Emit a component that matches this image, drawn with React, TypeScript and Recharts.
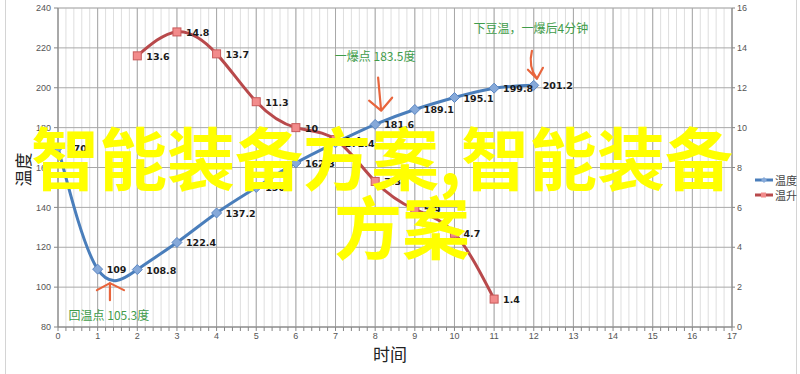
import React from 'react';
import {
  ComposedChart, Line, XAxis, YAxis, CartesianGrid, Legend, LabelList, ReferenceDot,
} from 'recharts';

// values
const times = [0, 1, 2, 3, 4, 5, 6, 7, 8, 9, 10, 11, 12];
const tempValues = [170, 109, 108.8, 122.4, 137.2, 150, 162.3, 172.4, 181.6, 189.1, 195.1, 199.8, 201.2];
const riseValues = [null, null, 13.6, 14.8, 13.7, 11.3, 10, 9.4, 7.3, 5.9, 4.7, 1.4, null];
const seriesNames = ['温度', '温升'];

const xMajorTicks = Array.from({ length: 18 }, (_, i) => i);
const xMinorTicks = Array.from({ length: 86 }, (_, i) => Math.round(i * 2) / 10);
const leftTicks = [80, 100, 120, 140, 160, 180, 200, 220, 240];
const leftMinorTicks = [80, 90, 100, 110, 120, 130, 140, 150, 160, 170, 180, 190, 200, 210, 220, 230, 240];
const rightTicks = [0, 2, 4, 6, 8, 10, 12, 14, 16];

const notes = [
  { x: 12.08, y: 204.5, text: '下豆温，一爆后4分钟' },
  { x: 8.15, y: 188.5, text: '一爆点 183.5度' },
  { x: 1.31, y: 102, text: '回温点 105.3度' },
];

const watermark = ['智能装备方案,智能装备', '方案'];

const data = times.map((t, i) => ({ t, temp: tempValues[i], rise: riseValues[i] }));

const BLUE = '#4a7ebb';
const RED = '#b8494b';
const ARROW = '#e8653c';
const GREEN = '#3f9c4a';
const CJK = '"Noto Sans CJK SC", "Noto Sans", sans-serif';

const Diamond = (props: any) => {
  const { cx, cy } = props;
  if (cx == null || cy == null) return null;
  return <path d={`M${cx},${cy - 5}L${cx + 5},${cy}L${cx},${cy + 5}L${cx - 5},${cy}Z`} fill="#86a9d9" stroke="#5b86c2" strokeWidth={1} />;
};

const Square = (props: any) => {
  const { cx, cy } = props;
  if (cx == null || cy == null) return null;
  return <rect x={cx - 4} y={cy - 4} width={8} height={8} fill="#f28b8b" stroke="#c85a5a" strokeWidth={1} />;
};

const PointLabel = (props: any) => {
  const { x, y, value } = props;
  if (value == null || x == null) return null;
  return (
    <text x={x + 9} y={y + 4} fontSize={9.5} fontWeight="bold" fill="#1a1a1a" fontFamily="DejaVu Sans, sans-serif">
      {value}
    </text>
  );
};

// hand-drawn style arrow + green note, anchored at the arrow tip
const Note = (props: any) => {
  const { cx, cy, text, kind } = props;
  if (cx == null || cy == null) return null;
  let arrow = '';
  let tx = cx;
  let ty = cy;
  if (kind === 'curve') {
    arrow = `M${cx - 5},${cy - 28} Q${cx - 9},${cy - 12} ${cx},${cy} M${cx - 9},${cy - 9} L${cx},${cy} L${cx + 6},${cy - 11}`;
    tx = cx - 6; ty = cy - 51;
  } else if (kind === 'down') {
    arrow = `M${cx - 3},${cy - 33} L${cx},${cy} M${cx - 12},${cy - 10} L${cx},${cy} L${cx + 11},${cy - 13}`;
    tx = cx - 6; ty = cy - 55;
  } else {
    arrow = `M${cx},${cy + 17} L${cx},${cy} M${cx - 13},${cy + 7} L${cx},${cy} L${cx + 14},${cy + 7}`;
    tx = cx - 1; ty = cy + 31;
  }
  return (
    <g>
      <path d={arrow} fill="none" stroke={ARROW} strokeWidth={2.2} strokeLinecap="round" strokeLinejoin="round" />
      <text x={tx} y={ty} textAnchor="middle" dominantBaseline="central" fontSize={12} fill={GREEN} fontFamily={CJK}>
        {text}
      </text>
    </g>
  );
};

const LegendBox = () => (
  <div style={{ fontFamily: CJK, fontSize: 11, color: '#444' }}>
    {seriesNames.map((name, i) => (
      <div key={name} style={{ display: 'flex', alignItems: 'center', height: 15 }}>
        <svg width={20} height={8} style={{ marginRight: 1 }}>
          <line x1={1} y1={4} x2={19} y2={4} stroke={i === 0 ? BLUE : RED} strokeWidth={3} />
          {i === 0
            ? <path d="M10,1L13,4L10,7L7,4Z" fill="#86a9d9" />
            : <rect x={7} y={1.5} width={5} height={5} fill="#f28b8b" />}
        </svg>
        <span>{name}</span>
      </div>
    ))}
  </div>
);

const tickStyle = { fill: '#555', fontSize: 9, fontFamily: 'Liberation Sans, sans-serif' };

const markStyle: React.CSSProperties = {
  position: 'absolute', whiteSpace: 'nowrap', fontFamily: CJK, fontWeight: 700,
  fontSize: 68, lineHeight: '68px', color: '#ffff00', pointerEvents: 'none',
};

export default function App() {
  return (
    <div style={{ position: 'absolute', left: 0, top: 0, width: 800, height: 374, background: '#fff' }}>
      <div style={{ position: 'absolute', left: 5, top: 0, width: 790, height: 374, borderLeft: '1px solid #d4d4d4', borderRight: '1px solid #d4d4d4' }} />
      <ComposedChart width={800} height={374} data={data} margin={{ top: 8, right: 38, left: 0, bottom: 7 }}>
        <XAxis
          xAxisId="main"
          dataKey="t"
          type="number"
          domain={[0, 17]}
          ticks={xMinorTicks}
          interval={0}
          tickFormatter={(v: number) => (Number.isInteger(v) ? String(v) : '')}
          tick={tickStyle}
          tickSize={4}
          tickMargin={2}
          stroke="#868686"
          height={40}
          label={({ viewBox }: any) => (
            <text x={viewBox.x + 332} y={viewBox.y + 34} textAnchor="middle" fontSize={17} fill="#222" fontFamily={CJK}>时间</text>
          )}
        />
        <XAxis xAxisId="major" dataKey="t" type="number" domain={[0, 17]} ticks={xMajorTicks} hide />
        <YAxis
          yAxisId="left"
          type="number"
          domain={[80, 240]}
          ticks={leftTicks}
          interval={0}
          tick={tickStyle}
          tickSize={4}
          tickMargin={3}
          stroke="#868686"
          width={58}
          label={({ viewBox }: any) => {
            const x = viewBox.x + 22;
            const y = viewBox.y + viewBox.height / 2 + 2;
            return (
              <text x={x} y={y} transform={`rotate(-90, ${x}, ${y})`} textAnchor="middle" dominantBaseline="central" fontSize={17} fill="#222" fontFamily={CJK}>温度</text>
            );
          }}
        />
        <YAxis yAxisId="leftMinor" type="number" domain={[80, 240]} ticks={leftMinorTicks} hide />
        <YAxis
          yAxisId="right"
          orientation="right"
          type="number"
          domain={[0, 16]}
          ticks={rightTicks}
          interval={0}
          tick={tickStyle}
          tickSize={3}
          tickMargin={2}
          stroke="#868686"
          width={30}
        />

        <CartesianGrid xAxisId="main" yAxisId="leftMinor" stroke="#dedede" strokeWidth={1} />
        <CartesianGrid xAxisId="major" yAxisId="left" stroke="#a8a8a8" strokeWidth={1} />

        <Line
          xAxisId="main"
          yAxisId="left"
          type="natural"
          dataKey="temp"
          name={seriesNames[0]}
          stroke={BLUE}
          strokeWidth={3}
          dot={<Diamond />}
          activeDot={false}
          isAnimationActive={false}
        >
          <LabelList dataKey="temp" content={<PointLabel />} />
        </Line>
        <Line
          xAxisId="main"
          yAxisId="right"
          type="natural"
          dataKey="rise"
          name={seriesNames[1]}
          stroke={RED}
          strokeWidth={3}
          dot={<Square />}
          activeDot={false}
          isAnimationActive={false}
        >
          <LabelList dataKey="rise" content={<PointLabel />} />
        </Line>

        <ReferenceDot xAxisId="main" yAxisId="left" x={notes[0].x} y={notes[0].y} r={0}
          shape={(p: any) => <Note {...p} text={notes[0].text} kind="curve" />} />
        <ReferenceDot xAxisId="main" yAxisId="left" x={notes[1].x} y={notes[1].y} r={0}
          shape={(p: any) => <Note {...p} text={notes[1].text} kind="down" />} />
        <ReferenceDot xAxisId="main" yAxisId="left" x={notes[2].x} y={notes[2].y} r={0}
          shape={(p: any) => <Note {...p} text={notes[2].text} kind="up" />} />

        <Legend
          layout="vertical"
          align="center"
          verticalAlign="middle"
          content={<LegendBox />}
          wrapperStyle={{ left: 754, top: 172, width: 46 }}
        />
      </ComposedChart>

      <div style={{ ...markStyle, left: 31, top: 122 }}>{watermark[0]}</div>
      <div style={{ ...markStyle, left: 334, top: 191 }}>{watermark[1]}</div>
    </div>
  );
}
